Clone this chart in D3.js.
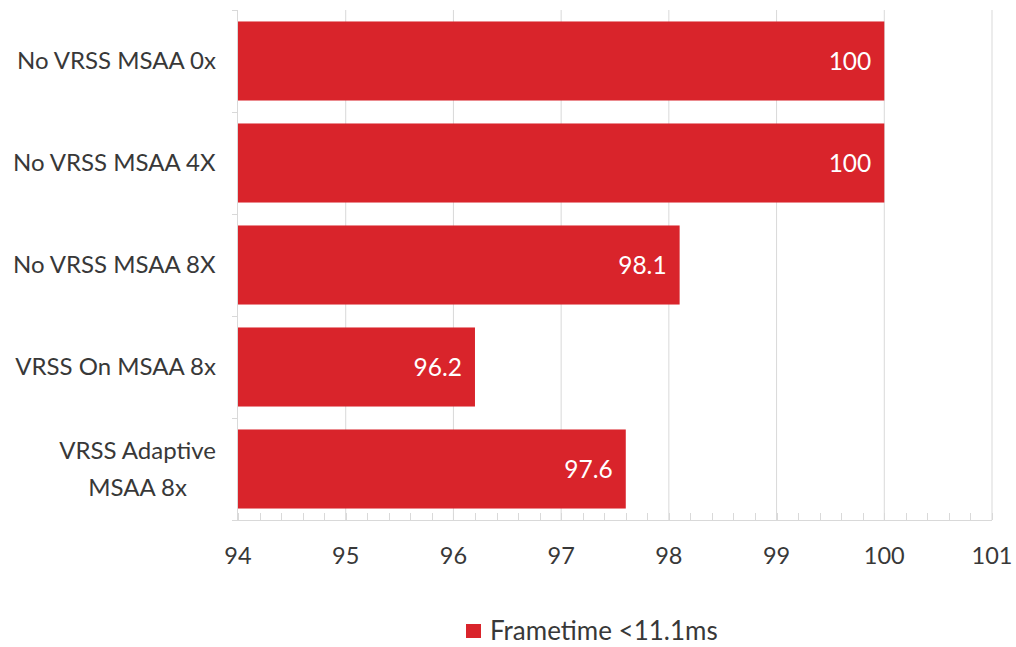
<!DOCTYPE html>
<html>
<head>
<meta charset="utf-8">
<script src="https://cdn.jsdelivr.net/npm/d3@7"></script>
<style>
  html, body { margin: 0; padding: 0; background: #fff; }
  svg text { font-family: Lato, "Open Sans", sans-serif; }
</style>
</head>
<body>
<svg id="chart" width="1016" height="647"></svg>
<script>
// Share of frames under 11.1 ms per rendering mode
const categories = ["No VRSS MSAA 0x", "No VRSS MSAA 4X", "No VRSS MSAA 8X", "VRSS On MSAA 8x", "VRSS Adaptive\nMSAA 8x"];
const values = [100, 100, 98.1, 96.2, 97.6];
const valueLabels = ["100", "100", "98.1", "96.2", "97.6"];
const xTicks = [94, 95, 96, 97, 98, 99, 100, 101];
const seriesName = "Frametime <11.1ms";

const svg = d3.select("#chart");
const margin = { left: 238, right: 24, top: 10, bottom: 127 };
const W = 1016, H = 647;
const barColor = "#d9242b";
const gridColor = "#d9d9d9";
const textColor = "#383838";

const x = d3.scaleLinear().domain([94, 101]).range([margin.left, W - margin.right]);
const y = d3.scaleBand().domain(categories).range([margin.top, H - margin.bottom])
  .paddingInner(0.225).paddingOuter(0.1125);

const g = svg.append("g");

// vertical gridlines
g.selectAll("line.grid").data(xTicks.slice(1)).join("line")
  .attr("x1", d => x(d)).attr("x2", d => x(d))
  .attr("y1", margin.top).attr("y2", H - margin.bottom)
  .attr("stroke", gridColor).attr("stroke-width", 1);

// bars
g.selectAll("rect.bar").data(values).join("rect")
  .attr("x", x(94))
  .attr("y", (d, i) => y(categories[i]))
  .attr("width", d => x(d) - x(94))
  .attr("height", y.bandwidth())
  .attr("fill", barColor);

// value labels inside bar ends
g.selectAll("text.val").data(values).join("text")
  .attr("x", d => x(d) - 13)
  .attr("y", (d, i) => y(categories[i]) + y.bandwidth() / 2)
  .attr("dy", "0.35em")
  .attr("text-anchor", "end")
  .attr("fill", "#fff")
  .attr("font-size", 24.5)
  .text((d, i) => valueLabels[i]);

// bottom axis line with minor ticks
const yAxis0 = H - margin.bottom;
g.append("line")
  .attr("x1", x(94)).attr("x2", x(101))
  .attr("y1", yAxis0 + 0.5).attr("y2", yAxis0 + 0.5)
  .attr("stroke", gridColor);
const minor = d3.range(94, 101.0001, 0.2);
g.selectAll("line.minor").data(minor).join("line")
  .attr("x1", d => Math.round(x(d)) + 0.5).attr("x2", d => Math.round(x(d)) + 0.5)
  .attr("y1", yAxis0 - 7).attr("y2", yAxis0)
  .attr("stroke", gridColor);

// left axis line with category ticks
g.append("line")
  .attr("x1", x(94) - 0.5).attr("x2", x(94) - 0.5)
  .attr("y1", margin.top).attr("y2", yAxis0)
  .attr("stroke", gridColor);
const bounds = categories.map(c => y(c) - y.step() * y.paddingInner() / 2).concat([yAxis0]);
g.selectAll("line.ctick").data(bounds).join("line")
  .attr("x1", x(94) - 6).attr("x2", x(94))
  .attr("y1", d => Math.round(d) + 0.5).attr("y2", d => Math.round(d) + 0.5)
  .attr("stroke", gridColor);

// x tick labels
g.selectAll("text.xt").data(xTicks).join("text")
  .attr("x", d => x(d))
  .attr("y", 556)
  .attr("dy", "0.35em")
  .attr("text-anchor", "middle")
  .attr("fill", textColor)
  .attr("font-size", 23.5)
  .text(d => d);

// category labels
const catG = g.selectAll("text.cat").data(categories).join("text")
  .attr("text-anchor", "middle")
  .attr("fill", textColor)
  .attr("font-size", 24);
catG.each(function (c) {
  const lines = c.split("\n");
  const cy = y(c) + y.bandwidth() / 2;
  const lh = 37;
  const t = d3.select(this);
  lines.forEach((ln, i) => {
    t.append("tspan")
      .attr("x", 0)
      .attr("y", cy + (i - (lines.length - 1) / 2) * lh)
      .attr("dy", "0.35em")
      .text(ln);
  });
});
// right-align each label block at a fixed edge, lines centred within the block
catG.each(function () {
  const bb = this.getBBox();
  const shift = 216 - (bb.x + bb.width);
  d3.select(this).attr("transform", `translate(${shift},0)`);
});

// legend
const leg = svg.append("g").attr("transform", "translate(466,631)");
leg.append("rect").attr("x", 0).attr("y", -7).attr("width", 15).attr("height", 14).attr("fill", barColor);
leg.append("text").attr("x", 24).attr("y", 0).attr("dy", "0.35em")
  .attr("fill", textColor).attr("font-size", 26).text(seriesName);
</script>
</body>
</html>
